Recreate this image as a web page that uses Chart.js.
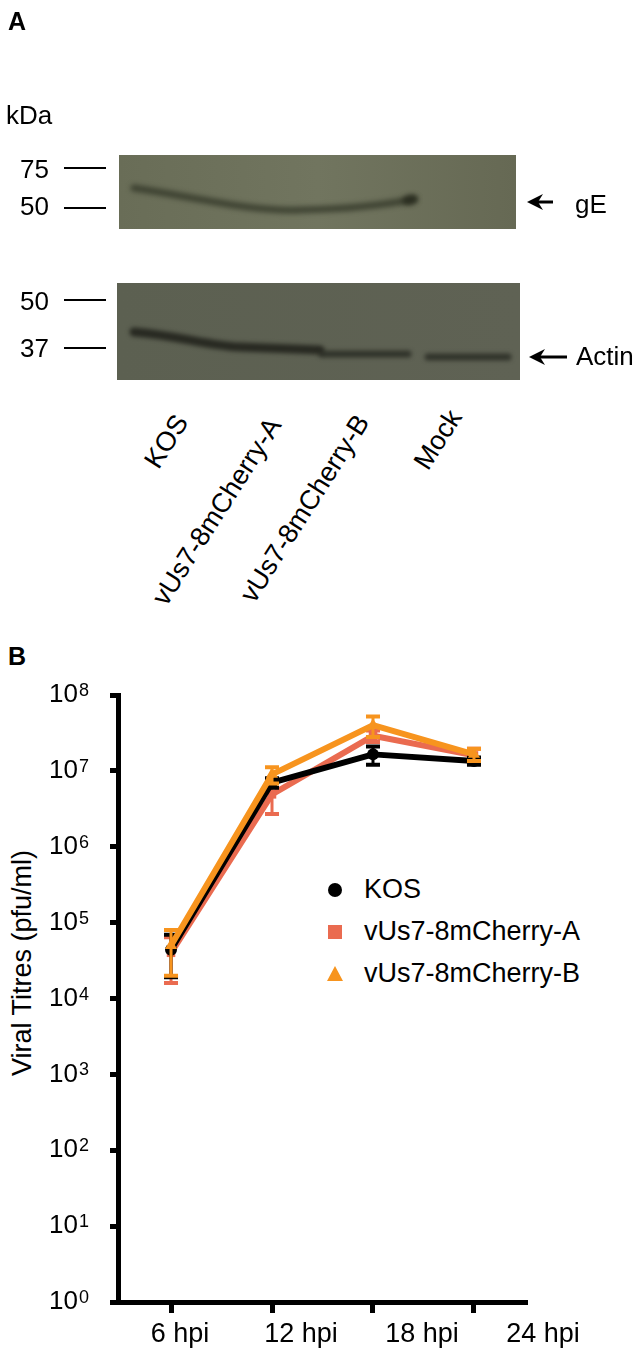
<!DOCTYPE html>
<html>
<head>
<meta charset="utf-8">
<script src="https://cdn.jsdelivr.net/npm/chart.js@4.4.1/dist/chart.umd.min.js"></script>
<style>
  body { margin: 0; background: #fff; font-family: "Liberation Sans", Arial, sans-serif; }
  #page { position: relative; width: 638px; height: 1355px; overflow: hidden; }
  .t { position: absolute; color: #000; white-space: nowrap; line-height: 1; }
  .bold { font-weight: bold; }
  .mw { position: absolute; height: 1.5px; background: #000; }
  .lane { position: absolute; width: 0; height: 0; }
  .lane span { position: absolute; right: 0; top: -13px; font-size: 27px; line-height: 1; white-space: nowrap;
               transform-origin: 100% 50%; transform: rotate(-57.5deg); }
  #chartBox { position: absolute; left: 0; top: 670px; width: 638px; height: 685px; }
  #ytitle { position: absolute; left: 22px; top: 963px; font-size: 27px; line-height: 1; white-space: nowrap;
            transform: translate(-50%, -50%) rotate(-90deg); }
  .leg { position: absolute; left: 0; width: 0; height: 0; }
  .leg .mk { position: absolute; }
  .leg .lbl { position: absolute; left: 364px; top: -14px; font-size: 27px; line-height: 1; white-space: nowrap; }
</style>
</head>
<body>
<div id="page">
  <canvas id="blot" width="638" height="400" style="position:absolute;left:0;top:0"></canvas>

  <div class="t bold" style="left:8px;top:9px;font-size:25px">A</div>
  <div class="t" style="left:6px;top:102px;font-size:26px">kDa</div>

  <div class="t" style="left:20px;top:156px;font-size:26px">75</div>
  <div class="mw" style="left:64px;width:42px;top:167px"></div>
  <div class="t" style="left:20px;top:193px;font-size:26px">50</div>
  <div class="mw" style="left:64px;width:42px;top:207px"></div>
  <div class="t" style="left:20px;top:288px;font-size:26px">50</div>
  <div class="mw" style="left:64px;width:42px;top:299px"></div>
  <div class="t" style="left:20px;top:335px;font-size:26px">37</div>
  <div class="mw" style="left:64px;width:42px;top:347px"></div>

  <div class="t" style="left:575px;top:191px;font-size:26px">gE</div>
  <div class="t" style="left:576px;top:343px;font-size:26px">Actin</div>

  <div class="lane" style="left:182px;top:417px"><span>KOS</span></div>
  <div class="lane" style="left:275px;top:420px"><span>vUs7-8mCherry-A</span></div>
  <div class="lane" style="left:363px;top:417px"><span>vUs7-8mCherry-B</span></div>
  <div class="lane" style="left:456px;top:412px"><span>Mock</span></div>

  <div class="t bold" style="left:8px;top:644px;font-size:25px">B</div>
  <div id="ytitle">Viral Titres (pfu/ml)</div>
  <div id="legend"></div>

  <div id="chartBox"><canvas id="chart" width="638" height="685"></canvas></div>
</div>

<script>
  // time points (hours post infection) and their axis labels
  const hours = [6, 12, 18, 24];
  const hourLabels = ["6 hpi", "12 hpi", "18 hpi", "24 hpi"];
  const yTicks = [1, 1e1, 1e2, 1e3, 1e4, 1e5, 1e6, 1e7, 1e8];
  const seriesNames = ["KOS", "vUs7-8mCherry-A", "vUs7-8mCherry-B"];
  const seriesColors = ["#000000", "#EA6B50", "#F7941E"];

  // mean titres and SEM
  const kosMean = [4.4e4, 7.0e6, 1.65e7, 1.35e7];
  const kosSem = [2.5e4, 1.0e6, 0.45e7, 0.15e7];
  const cherryAMean = [4.0e4, 4.9e6, 2.9e7, 1.6e7];
  const cherryASem = [2.4e4, 2.2e6, 0.5e7, 0.35e7];
  const cherryBMean = [5.0e4, 9.0e6, 4.0e7, 1.65e7];
  const cherryBSem = [3.0e4, 2.2e6, 1.2e7, 0.3e7];

  const means = [kosMean, cherryAMean, cherryBMean];
  const sems = [kosSem, cherryASem, cherryBSem];
  const pointStyles = ["circle", "rect", "triangle"];
  const drawOrder = [2, 3, 1];

  function drawBlots() {
    const c = document.getElementById("blot").getContext("2d");
    let g = c.createLinearGradient(119, 0, 516, 0);
    g.addColorStop(0, "#696d57");
    g.addColorStop(0.5, "#71755f");
    g.addColorStop(1, "#666954");
    c.fillStyle = g;
    c.fillRect(119, 155, 397, 74);

    g = c.createLinearGradient(117, 0, 520, 0);
    g.addColorStop(0, "#5c6051");
    g.addColorStop(1, "#5f6254");
    c.fillStyle = g;
    c.fillRect(117, 283, 403, 97);

    c.save();
    c.lineCap = "round";
    c.filter = "blur(2.5px)";
    // gE band
    c.strokeStyle = "rgba(40,44,30,0.65)";
    c.lineWidth = 7;
    c.beginPath();
    c.moveTo(134, 188);
    c.bezierCurveTo(190, 196, 250, 212, 300, 210);
    c.bezierCurveTo(350, 209, 390, 204, 414, 199);
    c.stroke();
    c.fillStyle = "rgba(35,38,26,0.75)";
    c.beginPath();
    c.ellipse(410, 200, 8, 5, -0.2, 0, Math.PI * 2);
    c.fill();
    // actin band
    c.filter = "blur(2px)";
    c.strokeStyle = "rgba(34,36,29,0.9)";
    c.lineWidth = 9;
    c.beginPath();
    c.moveTo(134, 332);
    c.bezierCurveTo(180, 336, 210, 346, 240, 347);
    c.lineTo(320, 350);
    c.stroke();
    c.lineWidth = 7;
    c.strokeStyle = "rgba(38,40,32,0.8)";
    c.beginPath();
    c.moveTo(322, 354);
    c.lineTo(408, 354);
    c.stroke();
    c.beginPath();
    c.moveTo(428, 357);
    c.lineTo(508, 357);
    c.stroke();
    c.restore();

    // arrows
    function arrow(tipX, y, endX) {
      c.fillStyle = "#000";
      c.strokeStyle = "#000";
      c.lineWidth = 3;
      c.beginPath();
      c.moveTo(tipX + 8, y);
      c.lineTo(endX, y);
      c.stroke();
      c.beginPath();
      c.moveTo(tipX, y);
      c.lineTo(tipX + 16, y - 8);
      c.lineTo(tipX + 11, y);
      c.lineTo(tipX + 16, y + 8);
      c.closePath();
      c.fill();
    }
    arrow(527, 202, 553);
    arrow(529, 357, 567);
  }
  drawBlots();

  // legend built from the series arrays
  const legend = document.getElementById("legend");
  const legendY = [890, 932, 974];
  seriesNames.forEach((name, i) => {
    const row = document.createElement("div");
    row.className = "leg";
    row.style.top = legendY[i] + "px";
    let mk;
    if (i === 0) {
      mk = `<div class="mk" style="left:328px;top:-7px;width:14px;height:14px;border-radius:50%;background:${seriesColors[i]}"></div>`;
    } else if (i === 1) {
      mk = `<div class="mk" style="left:328px;top:-7px;width:14px;height:14px;background:${seriesColors[i]}"></div>`;
    } else {
      mk = `<div class="mk" style="left:327px;top:-8px;width:0;height:0;border-left:8px solid transparent;border-right:8px solid transparent;border-bottom:15px solid ${seriesColors[i]}"></div>`;
    }
    row.innerHTML = mk + `<div class="lbl">${name}</div>`;
    legend.appendChild(row);
  });

  const errorBars = {
    id: "errorBars",
    afterDatasetDraw(chart, args) {
      const i = args.index;
      const ds = chart.data.datasets[i];
      const x = chart.scales.x;
      const y = chart.scales.y;
      const c = chart.ctx;
      c.save();
      c.strokeStyle = ds.borderColor;
      means[i].forEach((m, k) => {
        const e = sems[i][k];
        const px = x.getPixelForValue(hours[k]);
        const top = y.getPixelForValue(m + e);
        const bot = y.getPixelForValue(Math.max(m - e, 1));
        c.lineWidth = 3;
        c.beginPath();
        c.moveTo(px, top);
        c.lineTo(px, bot);
        c.stroke();
        c.lineWidth = 4;
        c.beginPath();
        c.moveTo(px - 7, top);
        c.lineTo(px + 7, top);
        c.moveTo(px - 7, bot);
        c.lineTo(px + 7, bot);
        c.stroke();
      });
      c.restore();
    }
  };

  // superscript exponents next to the "10" tick labels
  const exponents = {
    id: "exponents",
    afterDraw(chart) {
      const y = chart.scales.y;
      const c = chart.ctx;
      c.save();
      c.font = '18px "Liberation Sans", Arial, sans-serif';
      c.fillStyle = "#000";
      c.textAlign = "left";
      c.textBaseline = "alphabetic";
      yTicks.forEach((v) => {
        c.fillText(String(Math.round(Math.log10(v))), 79, y.getPixelForValue(v) + 1);
      });
      c.restore();
    }
  };

  Chart.defaults.font.family = '"Liberation Sans", Arial, sans-serif';
  Chart.defaults.color = "#000";

  const datasets = seriesNames.map((name, i) => ({
    label: name,
    data: hours.map((h, k) => ({ x: h, y: means[i][k] })),
    borderColor: seriesColors[i],
    backgroundColor: seriesColors[i],
    borderWidth: 6,
    borderJoinStyle: "round",
    pointStyle: pointStyles[i],
    pointRadius: i === 2 ? 7 : 6,
    pointBorderWidth: 0,
    tension: 0,
    order: drawOrder[i]
  }));

  new Chart(document.getElementById("chart"), {
    type: "line",
    data: { datasets: datasets },
    options: {
      responsive: false,
      animation: false,
      layout: { padding: { top: 25, right: 111, left: 0, bottom: 0 } },
      plugins: { legend: { display: false }, tooltip: { enabled: false } },
      scales: {
        x: {
          type: "linear",
          min: 2.85,
          max: 27.15,
          weight: 0,
          afterBuildTicks: (axis) => { axis.ticks = hours.map((v) => ({ value: v })); },
          afterFit: (s) => { s.height = 11; },
          border: { color: "#000", width: 5 },
          grid: { drawOnChartArea: false, drawTicks: true, tickLength: 11, tickWidth: 5, tickColor: "#000" },
          ticks: { display: false }
        },
        x2: {
          type: "linear",
          position: "bottom",
          min: 3.72,
          max: 24,
          weight: 1,
          afterBuildTicks: (axis) => { axis.ticks = hours.map((v) => ({ value: v })); },
          afterFit: (s) => { s.height = 42; },
          border: { display: false },
          grid: { display: false, drawTicks: false },
          ticks: {
            labelOffset: 16,
            padding: 5,
            autoSkip: false,
            maxRotation: 0,
            minRotation: 0,
            font: { size: 27 },
            callback: (v, idx) => hourLabels[idx]
          }
        },
        y: {
          type: "logarithmic",
          min: 1,
          max: 1e8,
          afterBuildTicks: (axis) => { axis.ticks = yTicks.map((v) => ({ value: v })); },
          afterFit: (s) => { s.width = 118; s.paddingTop = 0; s.paddingBottom = 0; },
          border: { color: "#000", width: 5 },
          grid: { drawOnChartArea: false, tickLength: 8, tickWidth: 5, tickColor: "#000" },
          ticks: {
            padding: 32,
            font: { size: 26 },
            callback: () => "10"
          }
        }
      }
    },
    plugins: [errorBars, exponents]
  });
</script>
</body>
</html>
